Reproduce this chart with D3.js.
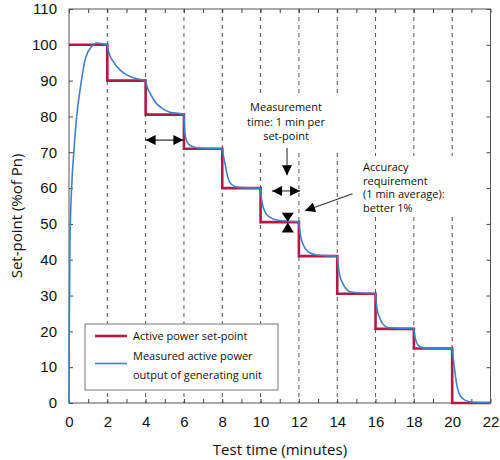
<!DOCTYPE html>
<html>
<head>
<meta charset="utf-8">
<script src="https://cdn.jsdelivr.net/npm/d3@7"></script>
<style>
  html, body { margin: 0; padding: 0; background: #fff; }
  svg { display: block; font-family: "Open Sans", "Noto Sans", sans-serif; }
  .axis text { font-size: 15px; fill: #111; }
  .axis line { stroke: #444; }
  .axis path { stroke: none; }
  .ann { font-size: 11px; fill: #111; }
  .legend text { font-size: 11px; fill: #111; }
</style>
</head>
<body>
<div id="chart"></div>
<script>
// Set-point test: stepped set-point vs. measured output

// set-point steps (start time in minutes, level in % of Pn)
const stepStart = [0, 2, 4, 6, 8, 10, 12, 14, 16, 18, 20];
const stepLevel = [100, 90, 80.5, 71, 60, 50.5, 41, 30.5, 20.7, 15.2, 0];
const X_END = 22;

// measured output
const measTime = [
  0, 0.02, 0.05, 0.14, 0.26, 0.4, 0.63, 0.84, 1.18, 1.45, 1.75,
  2, 2.06, 2.31, 2.66, 3.01, 3.36, 3.88,
  4, 4.08, 4.23, 4.49, 4.84, 5.27, 5.79,
  6, 6.04, 6.1, 6.25, 6.5, 7,
  8, 8.06, 8.14, 8.28, 8.49, 8.84,
  10, 10.04, 10.09, 10.23, 10.49, 10.84, 11.3,
  12, 12.04, 12.1, 12.23, 12.49, 12.93,
  14, 14.05, 14.11, 14.29, 14.49, 14.75,
  16, 16.04, 16.09, 16.23, 16.44, 16.72,
  18, 18.04, 18.09, 18.23, 18.49, 19,
  20, 20.05, 20.11, 20.23, 20.4, 20.67, 21, 22
];
const measValue = [
  0, 25, 45, 60.4, 70.6, 80, 89.3, 95.8, 99.5, 100.5, 100.3,
  100, 98.2, 95.3, 93.0, 91.6, 90.8, 90.2,
  90.1, 88.2, 86.5, 84.1, 82.3, 81.2, 80.8,
  80.6, 76, 73.8, 72.2, 71.5, 71.1,
  71, 69, 66.9, 63.2, 61.0, 60.2,
  60, 57.5, 55.7, 53.4, 51.8, 51.1, 50.8,
  50.6, 48.5, 46.4, 44.1, 42.2, 41.3,
  41, 38.5, 36.2, 33.4, 31.7, 30.9,
  30.6, 28, 25.9, 23.6, 21.7, 21.0,
  20.8, 19, 17.7, 16.1, 15.4, 15.2,
  15.2, 12.8, 10.1, 5.4, 2.2, 0.8, 0.3, 0.1
];

const xTicks = d3.range(0, 23, 1);
const yTicks = d3.range(0, 111, 10);
const gridTimes = d3.range(2, 21, 2);

const legendLabels = [["Active power set-point"], ["Measured active power", "output of generating unit"]];
const noteMeasure = ["Measurement", "time: 1 min per", "set-point"];
const noteAccuracy = ["Accuracy", "requirement", "(1 min average):", "better 1%"];

const RED = "#b01a44";
const BLUE = "#3f80c8";

const W = 500, H = 460;
const margin = { top: 9, right: 9.5, bottom: 57, left: 69 };
const iw = W - margin.left - margin.right;
const ih = H - margin.top - margin.bottom;

const svg = d3.select("#chart").append("svg")
  .attr("width", W).attr("height", H);

const x = d3.scaleLinear().domain([0, X_END]).range([margin.left, margin.left + iw]);
const y = d3.scaleLinear().domain([0, 110]).range([margin.top + ih, margin.top]);

// dashed verticals
svg.append("g").selectAll("line").data(gridTimes).join("line")
  .attr("x1", d => x(d)).attr("x2", d => x(d))
  .attr("y1", y(110)).attr("y2", y(0))
  .attr("stroke", "#555").attr("stroke-width", 1)
  .attr("stroke-dasharray", "4,4");

// white boxes behind the notes (they cut the dashed lines)
svg.append("rect").attr("x", 236).attr("y", 96).attr("width", 108).attr("height", 56).attr("fill", "#fff");
svg.append("rect").attr("x", 352).attr("y", 156).attr("width", 112).attr("height", 60).attr("fill", "#fff");

// axes (ticks point inwards)
svg.append("g").attr("class", "axis")
  .attr("transform", `translate(0,${y(0)})`)
  .call(d3.axisBottom(x).tickValues(xTicks).tickSize(-4).tickPadding(13)
    .tickFormat(d => d % 2 === 0 ? d : ""));
svg.append("g").attr("class", "axis")
  .attr("transform", `translate(0,${y(110)})`)
  .call(d3.axisTop(x).tickValues(xTicks).tickSize(-4).tickFormat(""));
svg.append("g").attr("class", "axis")
  .attr("transform", `translate(${x(0)},0)`)
  .call(d3.axisLeft(y).tickValues(yTicks).tickSize(-4).tickPadding(12));
svg.append("g").attr("class", "axis")
  .attr("transform", `translate(${x(X_END)},0)`)
  .call(d3.axisRight(y).tickValues(yTicks).tickSize(-4).tickFormat(""));

svg.append("rect")
  .attr("x", x(0)).attr("y", y(110))
  .attr("width", x(X_END) - x(0)).attr("height", y(0) - y(110))
  .attr("fill", "none").attr("stroke", "#555").attr("stroke-width", 1);

// set-point step line
const stepPts = stepStart.map((t, i) => [t, stepLevel[i]]);
stepPts.push([X_END, stepLevel[stepLevel.length - 1]]);
svg.append("path")
  .attr("d", d3.line().curve(d3.curveStepAfter).x(d => x(d[0])).y(d => y(d[1]))(stepPts))
  .attr("fill", "none").attr("stroke", RED).attr("stroke-width", 2.6);

// measured output, one smooth piece per set-point interval
// (the point at each step time is shared by both neighbouring pieces)
const meas = measTime.map((t, i) => [t, measValue[i]]);
const pieces = stepStart.map((t0, i) => {
  const t1 = i + 1 < stepStart.length ? stepStart[i + 1] : X_END;
  return meas.filter(p => p[0] >= t0 && p[0] <= t1);
});
const measLine = d3.line().curve(d3.curveMonotoneX).x(d => x(d[0])).y(d => y(d[1]));
svg.append("g").selectAll("path").data(pieces).join("path")
  .attr("d", measLine)
  .attr("fill", "none").attr("stroke", BLUE).attr("stroke-width", 1.6);

// arrows
const defs = svg.append("defs");
defs.append("marker").attr("id", "head")
  .attr("viewBox", "0 0 10 10").attr("refX", 10).attr("refY", 5)
  .attr("markerWidth", 11).attr("markerHeight", 10).attr("markerUnits", "userSpaceOnUse")
  .attr("orient", "auto-start-reverse")
  .append("path").attr("d", "M0,0 L10,5 L0,10 Z").attr("fill", "#000");

function arrow(x1, y1, x2, y2, both) {
  const l = svg.append("line")
    .attr("x1", x(x1)).attr("y1", y(y1)).attr("x2", x(x2)).attr("y2", y(y2))
    .attr("stroke", "#333").attr("stroke-width", 1.1)
    .attr("marker-end", "url(#head)");
  if (both) l.attr("marker-start", "url(#head)");
}
arrow(4.0, 73.4, 5.97, 73.4, true);
arrow(10.6, 59.2, 12.06, 59.2, true);
arrow(11.38, 71.2, 11.38, 63.6, false);
arrow(14.8, 58.4, 12.32, 53.7, false);

// two triangles pointing at the set-point line
const hx = x(11.42);
svg.append("path")
  .attr("d", `M${hx - 6},${y(53.1)} L${hx + 6},${y(53.1)} L${hx},${y(50.6)} Z`)
  .attr("fill", "#000");
svg.append("path")
  .attr("d", `M${hx - 6},${y(47.6)} L${hx + 6},${y(47.6)} L${hx},${y(50.4)} Z`)
  .attr("fill", "#000");

// notes
svg.append("text").attr("class", "ann")
  .attr("text-anchor", "middle")
  .selectAll("tspan").data(noteMeasure).join("tspan")
  .attr("x", 286).attr("y", (d, i) => 111 + i * 14.5)
  .text(d => d);
svg.append("text").attr("class", "ann")
  .selectAll("tspan").data(noteAccuracy).join("tspan")
  .attr("x", 363).attr("y", (d, i) => 171 + i * 13.6)
  .text(d => d);

// legend
const lg = svg.append("g").attr("class", "legend");
lg.append("rect").attr("x", 85).attr("y", 324).attr("width", 193).attr("height", 66)
  .attr("fill", "#fff").attr("stroke", "#777").attr("stroke-width", 1);
lg.append("line").attr("x1", 95).attr("x2", 127).attr("y1", 336).attr("y2", 336)
  .attr("stroke", RED).attr("stroke-width", 2.6);
lg.append("line").attr("x1", 95).attr("x2", 127).attr("y1", 363.5).attr("y2", 363.5)
  .attr("stroke", BLUE).attr("stroke-width", 1.6);
lg.append("text").attr("x", 133).attr("y", 340).text(legendLabels[0][0]);
lg.append("text").attr("x", 133).attr("y", 359.5).text(legendLabels[1][0]);
lg.append("text").attr("x", 133).attr("y", 378.5).text(legendLabels[1][1]);

// axis titles
svg.append("text").attr("x", 280).attr("y", 455)
  .attr("text-anchor", "middle").attr("font-size", 15).attr("fill", "#111")
  .text("Test time (minutes)");
svg.append("text")
  .attr("transform", `translate(22,${(y(0) + y(110)) / 2 + 10}) rotate(-90)`)
  .attr("text-anchor", "middle").attr("font-size", 15).attr("fill", "#111")
  .text("Set-point (%of Pn)");
</script>
</body>
</html>
